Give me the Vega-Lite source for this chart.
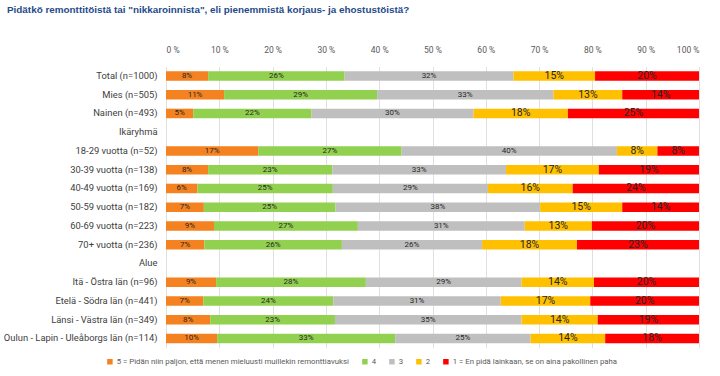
{
  "$schema": "https://vega.github.io/schema/vega-lite/v6.json",
  "width": 533,
  "height": 281,
  "autosize": "none",
  "padding": {"left": 166, "top": 66.7, "right": 21, "bottom": 28},
  "background": "white",
  "config": {"view": {"stroke": null}, "font": "Roboto"},
  "title": {
    "text": "Pidätkö remonttitöistä tai \"nikkaroinnista\", eli pienemmistä korjaus- ja ehostustöistä?",
    "anchor": "start",
    "frame": "group",
    "dx": -159,
    "offset": 31,
    "font": "Liberation Sans",
    "fontSize": 9.9,
    "fontWeight": "bold",
    "color": "#1F4A8A"
  },
  "data": {"values": [
    {"g": "Total (n=1000)", "c": "5", "v": 0.079}, {"g": "Total (n=1000)", "c": "4", "v": 0.256}, {"g": "Total (n=1000)", "c": "3", "v": 0.317}, {"g": "Total (n=1000)", "c": "2", "v": 0.153}, {"g": "Total (n=1000)", "c": "1", "v": 0.195},
    {"g": "Mies (n=505)", "c": "5", "v": 0.109}, {"g": "Mies (n=505)", "c": "4", "v": 0.287}, {"g": "Mies (n=505)", "c": "3", "v": 0.331}, {"g": "Mies (n=505)", "c": "2", "v": 0.129}, {"g": "Mies (n=505)", "c": "1", "v": 0.144},
    {"g": "Nainen (n=493)", "c": "5", "v": 0.051}, {"g": "Nainen (n=493)", "c": "4", "v": 0.222}, {"g": "Nainen (n=493)", "c": "3", "v": 0.304}, {"g": "Nainen (n=493)", "c": "2", "v": 0.177}, {"g": "Nainen (n=493)", "c": "1", "v": 0.246},
    {"g": "18-29 vuotta (n=52)", "c": "5", "v": 0.173}, {"g": "18-29 vuotta (n=52)", "c": "4", "v": 0.269}, {"g": "18-29 vuotta (n=52)", "c": "3", "v": 0.404}, {"g": "18-29 vuotta (n=52)", "c": "2", "v": 0.076}, {"g": "18-29 vuotta (n=52)", "c": "1", "v": 0.078},
    {"g": "30-39 vuotta (n=138)", "c": "5", "v": 0.079}, {"g": "30-39 vuotta (n=138)", "c": "4", "v": 0.233}, {"g": "30-39 vuotta (n=138)", "c": "3", "v": 0.326}, {"g": "30-39 vuotta (n=138)", "c": "2", "v": 0.174}, {"g": "30-39 vuotta (n=138)", "c": "1", "v": 0.188},
    {"g": "40-49 vuotta (n=169)", "c": "5", "v": 0.059}, {"g": "40-49 vuotta (n=169)", "c": "4", "v": 0.254}, {"g": "40-49 vuotta (n=169)", "c": "3", "v": 0.291}, {"g": "40-49 vuotta (n=169)", "c": "2", "v": 0.159}, {"g": "40-49 vuotta (n=169)", "c": "1", "v": 0.237},
    {"g": "50-59 vuotta (n=182)", "c": "5", "v": 0.071}, {"g": "50-59 vuotta (n=182)", "c": "4", "v": 0.247}, {"g": "50-59 vuotta (n=182)", "c": "3", "v": 0.384}, {"g": "50-59 vuotta (n=182)", "c": "2", "v": 0.154}, {"g": "50-59 vuotta (n=182)", "c": "1", "v": 0.144},
    {"g": "60-69 vuotta (n=223)", "c": "5", "v": 0.090}, {"g": "60-69 vuotta (n=223)", "c": "4", "v": 0.270}, {"g": "60-69 vuotta (n=223)", "c": "3", "v": 0.313}, {"g": "60-69 vuotta (n=223)", "c": "2", "v": 0.126}, {"g": "60-69 vuotta (n=223)", "c": "1", "v": 0.201},
    {"g": "70+ vuotta (n=236)", "c": "5", "v": 0.072}, {"g": "70+ vuotta (n=236)", "c": "4", "v": 0.258}, {"g": "70+ vuotta (n=236)", "c": "3", "v": 0.263}, {"g": "70+ vuotta (n=236)", "c": "2", "v": 0.178}, {"g": "70+ vuotta (n=236)", "c": "1", "v": 0.229},
    {"g": "Itä - Östra län (n=96)", "c": "5", "v": 0.094}, {"g": "Itä - Östra län (n=96)", "c": "4", "v": 0.281}, {"g": "Itä - Östra län (n=96)", "c": "3", "v": 0.292}, {"g": "Itä - Östra län (n=96)", "c": "2", "v": 0.136}, {"g": "Itä - Östra län (n=96)", "c": "1", "v": 0.197},
    {"g": "Etelä - Södra län (n=441)", "c": "5", "v": 0.070}, {"g": "Etelä - Södra län (n=441)", "c": "4", "v": 0.244}, {"g": "Etelä - Södra län (n=441)", "c": "3", "v": 0.314}, {"g": "Etelä - Södra län (n=441)", "c": "2", "v": 0.168}, {"g": "Etelä - Södra län (n=441)", "c": "1", "v": 0.204},
    {"g": "Länsi - Västra län (n=349)", "c": "5", "v": 0.083}, {"g": "Länsi - Västra län (n=349)", "c": "4", "v": 0.234}, {"g": "Länsi - Västra län (n=349)", "c": "3", "v": 0.350}, {"g": "Länsi - Västra län (n=349)", "c": "2", "v": 0.143}, {"g": "Länsi - Västra län (n=349)", "c": "1", "v": 0.190},
    {"g": "Oulun - Lapin - Uleåborgs län (n=114)", "c": "5", "v": 0.096}, {"g": "Oulun - Lapin - Uleåborgs län (n=114)", "c": "4", "v": 0.334}, {"g": "Oulun - Lapin - Uleåborgs län (n=114)", "c": "3", "v": 0.254}, {"g": "Oulun - Lapin - Uleåborgs län (n=114)", "c": "2", "v": 0.140}, {"g": "Oulun - Lapin - Uleåborgs län (n=114)", "c": "1", "v": 0.176}
  ]},
  "transform": [
    {"stack": "v", "groupby": ["g"], "sort": [{"field": "c", "order": "descending"}], "as": ["x0", "x1"]},
    {"calculate": "(datum.x0 + datum.x1) / 2", "as": "xm"}
  ],
  "encoding": {
    "y": {
      "field": "g",
      "type": "nominal",
      "scale": {
        "domain": ["Total (n=1000)", "Mies (n=505)", "Nainen (n=493)", "Ikäryhmä", "18-29 vuotta (n=52)", "30-39 vuotta (n=138)", "40-49 vuotta (n=169)", "50-59 vuotta (n=182)", "60-69 vuotta (n=223)", "70+ vuotta (n=236)", "Alue", "Itä - Östra län (n=96)", "Etelä - Södra län (n=441)", "Länsi - Västra län (n=349)", "Oulun - Lapin - Uleåborgs län (n=114)"],
        "paddingInner": 0.49,
        "paddingOuter": 0.24
      },
      "axis": {
        "title": null,
        "domain": false,
        "ticks": false,
        "labelPadding": 9,
        "labelFontSize": 9.4,
        "labelColor": "#404040",
        "labelLimit": 300
      }
    }
  },
  "layer": [
    {
      "mark": {"type": "bar"},
      "encoding": {
        "x": {
          "field": "x0",
          "type": "quantitative",
          "scale": {"domain": [0, 1], "nice": false},
          "axis": {
            "orient": "top",
            "title": null,
            "values": [0, 0.1, 0.2, 0.3, 0.4, 0.5, 0.6, 0.7, 0.8, 0.9, 1],
            "labelExpr": "format(datum.value * 100, '.0f') + ' %'",
            "domain": false,
            "ticks": false,
            "labelPadding": 12,
            "labelFontSize": 8.5,
            "labelColor": "#595959",
            "grid": true,
            "gridColor": "#E0E0E0",
            "gridWidth": 1
          }
        },
        "x2": {"field": "x1"},
        "color": {
          "field": "c",
          "type": "nominal",
          "scale": {
            "domain": ["5", "4", "3", "2", "1"],
            "range": ["#F58220", "#92D050", "#BFBFBF", "#FFC000", "#FF0000"]
          },
          "legend": {
            "title": null,
            "orient": "none",
            "direction": "horizontal",
            "legendX": -60,
            "legendY": 291,
            "symbolType": "square",
            "symbolSize": 30,
            "symbolStrokeWidth": 0,
            "labelFontSize": 7.8,
            "labelColor": "#595959",
            "labelOffset": 3,
            "columnPadding": 11,
            "labelLimit": 400,
            "labelExpr": "datum.label == '5' ? '5 = Pidän niin paljon, että menen mieluusti muillekin remonttiavuksi' : datum.label == '1' ? '1 = En pidä lainkaan, se on aina pakollinen paha' : datum.label"
          }
        }
      }
    },
    {
      "mark": {"type": "text", "color": "#262626", "baseline": "middle"},
      "encoding": {
        "x": {"field": "xm", "type": "quantitative"},
        "text": {"field": "v", "type": "quantitative", "format": ".0%"},
        "size": {
          "condition": {"test": "datum.c == '1' || datum.c == '2'", "value": 10.5},
          "value": 8
        }
      }
    }
  ]
}
